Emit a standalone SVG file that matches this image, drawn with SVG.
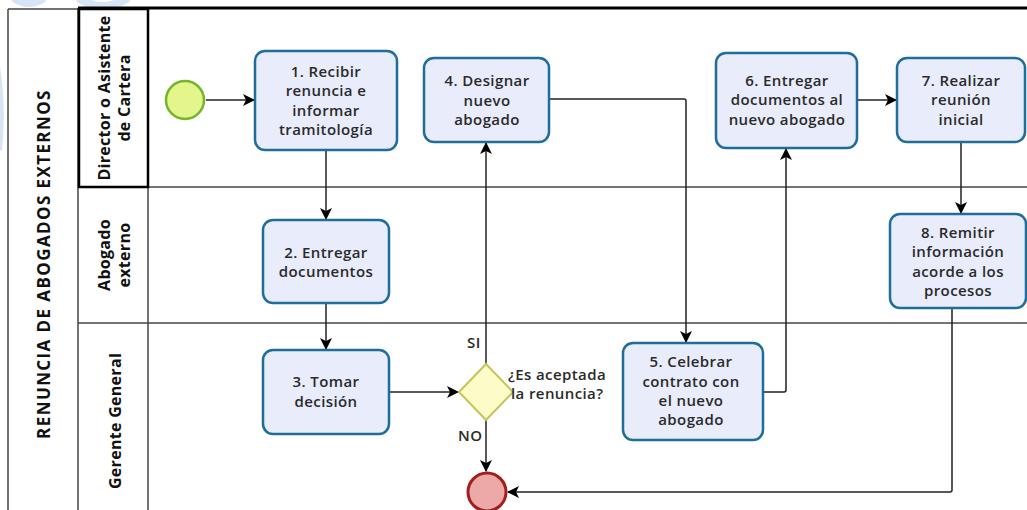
<svg xmlns="http://www.w3.org/2000/svg" width="1027" height="510" viewBox="0 0 1027 510">
<style>
.lane{fill:none;stroke:#444;stroke-width:1.5}
.task{fill:#e8ecfb;stroke:#1f6e99;stroke-width:2.5}
.t{font-family:"Open Sans","DejaVu Sans",sans-serif;font-weight:600;font-size:15px;letter-spacing:0.4px;fill:#2a2a2a;text-anchor:middle}
.l{text-anchor:start}
.h{font-family:"Open Sans","DejaVu Sans",sans-serif;font-weight:700;font-size:16px;letter-spacing:0.3px;fill:#111;text-anchor:middle}
.c{fill:none;stroke:#222;stroke-width:1.5}
</style>
<defs>
<marker id="ar" viewBox="0 0 12 12" refX="11" refY="6" markerWidth="12" markerHeight="12" markerUnits="userSpaceOnUse" orient="auto">
<path d="M0,0 L12,6 L0,12 L3,6 Z" fill="#000"/>
</marker>
</defs>
<rect width="1027" height="510" fill="#fff"/>
<g id="watermark" fill="none" stroke="#d6e4f5" stroke-width="8">
<path d="M-10,40 Q4,90 -2,150"/>
<path d="M14,-2 Q28,8 44,-2"/>
<path d="M78,-2 Q102,14 128,-2"/>
</g>
<g id="pool">
<line x1="8" y1="9" x2="8" y2="510" class="lane"/>
<line x1="8" y1="9" x2="78" y2="9" class="lane"/>
<line x1="78" y1="8" x2="1027" y2="8" stroke="#000" stroke-width="3"/>
<line x1="78" y1="8" x2="78" y2="510" class="lane"/>
<line x1="148" y1="8" x2="148" y2="510" class="lane"/>
<line x1="78" y1="187" x2="1027" y2="187" class="lane"/>
<line x1="78" y1="323" x2="1027" y2="323" class="lane"/>
<rect x="79" y="9" width="69" height="178" fill="none" stroke="#000" stroke-width="2.5"/>
<text class="h" style="font-size:17px;letter-spacing:1.4px" transform="translate(50,264) rotate(-90)">RENUNCIA DE ABOGADOS EXTERNOS</text>
<text class="h" transform="translate(110,98) rotate(-90)">Director o Asistente</text>
<text class="h" transform="translate(130,98) rotate(-90)">de Cartera</text>
<text class="h" transform="translate(110,255) rotate(-90)">Abogado</text>
<text class="h" transform="translate(130,255) rotate(-90)">externo</text>
<text class="h" transform="translate(121,421) rotate(-90)">Gerente General</text>
</g>
<g id="connectors">
<line x1="206" y1="100" x2="254" y2="100" class="c" marker-end="url(#ar)"/>
<line x1="326" y1="150" x2="326" y2="219" class="c" marker-end="url(#ar)"/>
<line x1="326" y1="303" x2="326" y2="349" class="c" marker-end="url(#ar)"/>
<line x1="389" y1="392" x2="458" y2="392" class="c" marker-end="url(#ar)"/>
<line x1="486" y1="364" x2="486" y2="143" class="c" marker-end="url(#ar)"/>
<line x1="486" y1="420" x2="486" y2="471" class="c" marker-end="url(#ar)"/>
<path d="M549,99 H684 Q686,99 686,101 V342" class="c" marker-end="url(#ar)"/>
<path d="M763,392 H784 Q786,392 786,390 V149" class="c" marker-end="url(#ar)"/>
<line x1="857" y1="100" x2="896" y2="100" class="c" marker-end="url(#ar)"/>
<line x1="961" y1="142" x2="961" y2="213" class="c" marker-end="url(#ar)"/>
<path d="M952,308 V490 Q952,492 950,492 H508" class="c" marker-end="url(#ar)"/>
</g>
<g id="start"><circle cx="185" cy="100" r="19" fill="#e4f58c" stroke="#74b52c" stroke-width="2.5"/></g>
<g id="task1"><rect x="255" y="51" width="142" height="99" rx="10" class="task"/>
<text class="t" x="326" y="77">1. Recibir</text><text class="t" x="326" y="96">renuncia e</text><text class="t" x="326" y="116">informar</text><text class="t" x="326" y="135">tramitología</text></g>
<g id="task4"><rect x="424" y="58" width="125" height="84" rx="10" class="task"/>
<text class="t" x="487" y="86">4. Designar</text><text class="t" x="487" y="106">nuevo</text><text class="t" x="487" y="125">abogado</text></g>
<g id="task6"><rect x="716" y="53" width="141" height="95" rx="10" class="task"/>
<text class="t" x="787" y="86">6. Entregar</text><text class="t" x="787" y="105">documentos al</text><text class="t" x="787" y="125">nuevo abogado</text></g>
<g id="task7"><rect x="897" y="58" width="128" height="84" rx="10" class="task"/>
<text class="t" x="961" y="86">7. Realizar</text><text class="t" x="961" y="105">reunión</text><text class="t" x="961" y="125">inicial</text></g>
<g id="task2"><rect x="263" y="220" width="126" height="83" rx="10" class="task"/>
<text class="t" x="326" y="258">2. Entregar</text><text class="t" x="326" y="277">documentos</text></g>
<g id="task8"><rect x="890" y="214" width="136" height="94" rx="10" class="task"/>
<text class="t" x="958" y="238">8. Remitir</text><text class="t" x="958" y="257">información</text><text class="t" x="958" y="277">acorde a los</text><text class="t" x="958" y="296">procesos</text></g>
<g id="task3"><rect x="263" y="350" width="126" height="84" rx="10" class="task"/>
<text class="t" x="326" y="387">3. Tomar</text><text class="t" x="326" y="407">decisión</text></g>
<g id="task5"><rect x="623" y="343" width="140" height="97" rx="10" class="task"/>
<text class="t" x="691" y="367">5. Celebrar</text><text class="t" x="691" y="387">contrato con</text><text class="t" x="691" y="406">el nuevo</text><text class="t" x="691" y="425">abogado</text></g>
<g id="gateway"><polygon points="459,392 486,364 513,392 486,420" fill="#fcfcc8" stroke="#c4c45a" stroke-width="2"/>
<text class="t l" x="508" y="380">¿Es aceptada</text>
<text class="t l" x="511" y="399">la renuncia?</text>
<text class="t l" x="467" y="348">SI</text>
<text class="t l" x="458" y="441">NO</text></g>
<g id="end"><circle cx="487" cy="492" r="19" fill="#eda8a8" stroke="#a31f1f" stroke-width="3"/></g>
</svg>
